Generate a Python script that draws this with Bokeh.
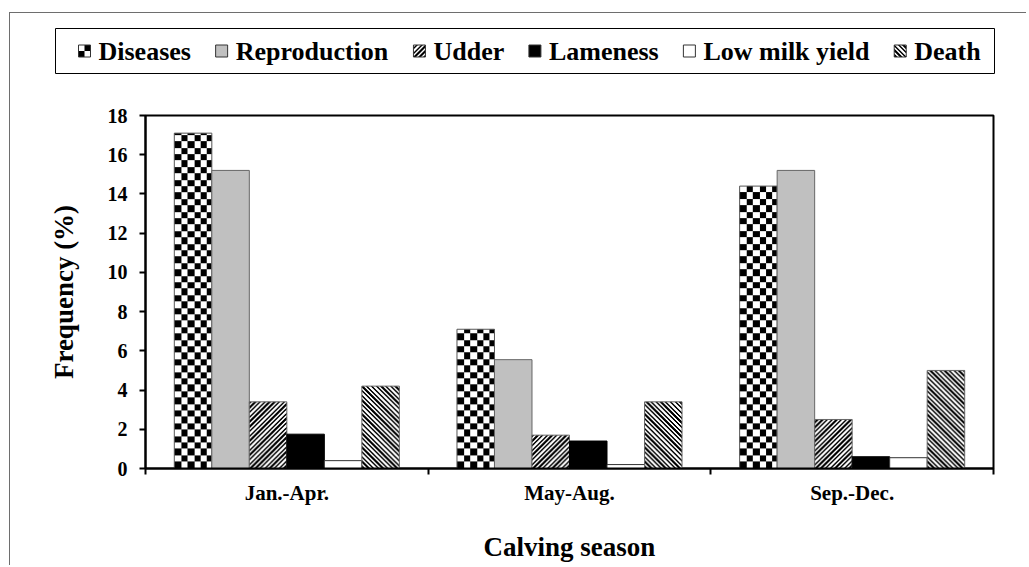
import numpy as np
from bokeh.plotting import figure
from bokeh.layouts import column
from bokeh.models import (FactorRange, Range1d, LinearAxis, FixedTicker, ColumnDataSource)
from bokeh.core.properties import value
from bokeh.transform import dodge
from bokeh.embed import file_html
from bokeh.resources import INLINE

# ---- data ----
seasons = ["Jan.-Apr.", "May-Aug.", "Sep.-Dec."]
series_names = ["Diseases", "Reproduction", "Udder", "Lameness", "Low milk yield", "Death"]
diseases = [17.1, 7.1, 14.4]
reproduction = [15.2, 5.55, 15.2]
udder = [3.4, 1.7, 2.5]
lameness = [1.75, 1.4, 0.6]
low_milk_yield = [0.4, 0.2, 0.55]
death = [4.2, 3.4, 5.0]
y_ticks = [0, 2, 4, 6, 8, 10, 12, 14, 16, 18]
x_title = "Calving season"
y_title = "Frequency (%)"

FONT = "Liberation Serif"
cols = ["diseases", "reproduction", "udder", "lameness", "low", "death"]
vals = dict(diseases=diseases, reproduction=reproduction, udder=udder,
            lameness=lameness, low=low_milk_yield, death=death)
src = ColumnDataSource(dict(season=seasons, **vals))

# fill style of each series: (kind, fill colour, outline colour)
kinds = ["chk", "solid", "fwd", "solid", "solid", "bwd"]
fills = ["white", "#c0c0c0", "white", "black", "white", "white"]
lines = ["#555555", "#666666", "#666666", "black", "#333333", "#666666"]
periods = {"chk": 6.4, "fwd": 4.7, "bwd": 4.7}


def pattern(kind, rows, ncols, period):
    # image rows run bottom -> top
    r = np.arange(rows)[:, None]
    c = np.arange(ncols)[None, :]
    if kind == "chk":
        on = (np.floor(r / period) + np.floor(c / period)) % 2 == 0
    elif kind == "fwd":      # "/" stripes
        on = ((c - r) % period) < period / 2
    else:                    # "\" stripes
        on = ((c + r) % period) < period / 2
    on = np.broadcast_to(on, (rows, ncols))
    rgba = np.full((rows, ncols, 4), 255, dtype=np.uint8)
    rgba[on, 0:3] = 0
    return rgba.view(np.uint32).reshape(rows, ncols)


# ---- main chart ----
LH = 70
FRAME_H = 353
BAR_PX = 37.5
p = figure(width=1016, height=552 - LH, x_range=FactorRange(factors=seasons),
           y_range=Range1d(0, 18), x_axis_type=None,
           output_backend="svg", toolbar_location=None,
           min_border_left=135, min_border_right=33, min_border_top=102 - LH,
           min_border_bottom=97)
p.frame_align = False
p.grid.visible = False
p.outline_line_color = "black"
p.outline_line_width = 2
p.background_fill_color = "white"
p.border_fill_color = "white"

xaxis = LinearAxis(ticker=FixedTicker(ticks=[i + 0.5 for i in range(len(seasons))],
                                      minor_ticks=list(range(len(seasons) + 1))),
                   major_label_overrides={i + 0.5: s for i, s in enumerate(seasons)})
p.add_layout(xaxis, "below")
xaxis.axis_line_width = 2
xaxis.axis_line_color = "black"
xaxis.major_tick_line_color = None
xaxis.major_tick_out = 0
xaxis.major_tick_in = 0
xaxis.minor_tick_out = 6
xaxis.minor_tick_in = 0
xaxis.minor_tick_line_width = 2
xaxis.minor_tick_line_color = "black"
xaxis.major_label_text_font = FONT
xaxis.major_label_text_font_style = "bold"
xaxis.major_label_text_font_size = "21px"
xaxis.major_label_text_color = "black"
xaxis.major_label_standoff = 6
xaxis.axis_label = x_title
xaxis.axis_label_text_font = FONT
xaxis.axis_label_text_font_style = "bold"
xaxis.axis_label_text_font_size = "27px"
xaxis.axis_label_text_color = "black"
xaxis.axis_label_standoff = 24

yaxis = p.yaxis[0]
yaxis.ticker = FixedTicker(ticks=y_ticks)
yaxis.axis_line_width = 2
yaxis.axis_line_color = "black"
yaxis.major_tick_line_width = 2
yaxis.major_tick_line_color = "black"
yaxis.major_tick_out = 6
yaxis.major_tick_in = 0
yaxis.minor_tick_line_color = None
yaxis.major_label_text_font = FONT
yaxis.major_label_text_font_style = "bold"
yaxis.major_label_text_font_size = "20px"
yaxis.major_label_text_color = "black"
yaxis.major_label_standoff = 12
yaxis.axis_label = y_title
yaxis.axis_label_text_font = FONT
yaxis.axis_label_text_font_style = "bold"
yaxis.axis_label_text_font_size = "27px"
yaxis.axis_label_text_color = "black"
yaxis.axis_label_standoff = 26

bar_w = 0.1327
px_per_unit = FRAME_H / 18
n = len(cols)
for i, c in enumerate(cols):
    off = (i - (n - 1) / 2) * bar_w
    k = kinds[i]
    if k == "solid":
        p.vbar(x=dodge("season", off, range=p.x_range), top=c, width=bar_w, source=src,
               fill_color=fills[i], line_color=lines[i], line_width=1)
    else:
        imgs = [pattern(k, max(1, int(round(v * px_per_unit))), int(round(BAR_PX)), periods[k])
                for v in vals[c]]
        isrc = ColumnDataSource(dict(season=seasons, image=imgs, dh=vals[c]))
        p.image_rgba(image="image", x=dodge("season", off - bar_w / 2, range=p.x_range),
                     y=0, dw=bar_w, dh="dh", source=isrc)
        p.vbar(x=dodge("season", off, range=p.x_range), top=c, width=bar_w, source=src,
               fill_color=None, line_color=lines[i], line_width=1)

# ---- legend strip (drawn in screen-like coordinates) ----
W = 1016
lf = figure(width=W, height=LH, x_range=Range1d(0, W), y_range=Range1d(0, LH),
            x_axis_type=None, y_axis_type=None, output_backend="svg", toolbar_location=None,
            min_border_left=0, min_border_right=0, min_border_top=0, min_border_bottom=0)
lf.frame_align = False
lf.outline_line_color = None
lf.grid.visible = False
lf.background_fill_color = "white"
lf.border_fill_color = "white"

# Times/Liberation Serif Bold advance widths (per 1000 em)
CW = {" ": 250, "(": 333, ")": 333, "%": 1000, "A": 722, "D": 722, "L": 667, "R": 722,
      "U": 722, "a": 500, "c": 444, "d": 556, "e": 444, "h": 556, "i": 278, "k": 556,
      "l": 278, "m": 833, "n": 556, "o": 500, "p": 556, "r": 444, "s": 389, "t": 333,
      "u": 556, "w": 722, "y": 500}
FS = 26
ICON = 12
STANDOFF = 8
GAP = 24.7
BOX_L, BOX_R, BOX_B, BOX_T = 45, 984, 10, 55
yc = (BOX_B + BOX_T) / 2

lf.quad(left=[BOX_L], right=[BOX_R], bottom=[BOX_B], top=[BOX_T],
        fill_color="white", line_color="black", line_width=1)

xpos = 68.0
icon_x, text_x = [], []
for name in series_names:
    icon_x.append(xpos)
    text_x.append(xpos + ICON + STANDOFF)
    xpos += ICON + STANDOFF + sum(CW.get(ch, 500) for ch in name) / 1000 * FS + GAP

pat_idx = [i for i, k in enumerate(kinds) if k != "solid"]
sol_idx = [i for i, k in enumerate(kinds) if k == "solid"]
icon_period = {"chk": 6, "fwd": 4.7, "bwd": 4.7}
lf.image_rgba(image=[pattern(kinds[i], ICON, ICON, icon_period[kinds[i]]) for i in pat_idx],
              x=[icon_x[i] for i in pat_idx], y=[yc - ICON / 2] * len(pat_idx),
              dw=ICON, dh=ICON)
lf.quad(left=[icon_x[i] for i in pat_idx], right=[icon_x[i] + ICON for i in pat_idx],
        bottom=[yc - ICON / 2] * len(pat_idx), top=[yc + ICON / 2] * len(pat_idx),
        fill_color=None, line_color="#333333", line_width=1)
lf.quad(left=[icon_x[i] for i in sol_idx], right=[icon_x[i] + ICON for i in sol_idx],
        bottom=[yc - ICON / 2] * len(sol_idx), top=[yc + ICON / 2] * len(sol_idx),
        fill_color=[fills[i] for i in sol_idx], line_color="#333333", line_width=1)
lf.text(x=text_x, y=[yc] * len(series_names), text=series_names,
        text_font=value(FONT), text_font_style="bold", text_font_size=f"{FS}px",
        text_color="black", text_baseline="middle", text_align="left")

layout = column(lf, p, spacing=0)
layout.styles = {"border-left": "1px solid #6e6e6e", "border-top": "1px solid #6e6e6e",
                 "margin-left": "9px", "margin-top": "12px"}

open("out.html", "w").write(file_html(layout, INLINE))
